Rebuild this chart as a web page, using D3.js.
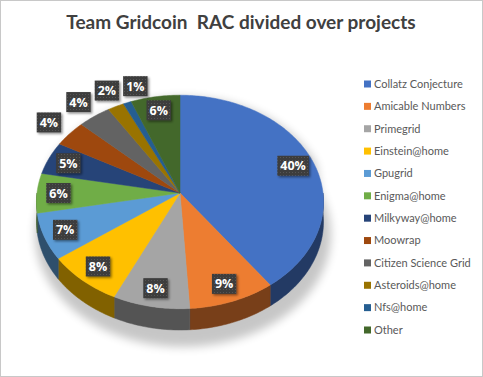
<!DOCTYPE html>
<html>
<head>
<meta charset="utf-8">
<script src="https://cdn.jsdelivr.net/npm/d3@7/dist/d3.min.js"></script>
<style>
  html, body { margin: 0; padding: 0; background: #fff; }
  svg { display: block; }
</style>
</head>
<body>
<div id="chart"></div>
<script>
// Team Gridcoin RAC share per project (percent)
const categories = [
  'Collatz Conjecture', 'Amicable Numbers', 'Primegrid', 'Einstein@home',
  'Gpugrid', 'Enigma@home', 'Milkyway@home', 'Moowrap',
  'Citizen Science Grid', 'Asteroids@home', 'Nfs@home', 'Other'
];
const shares = [40, 9, 8, 8, 7, 6, 5, 4, 4, 2, 1, 6];
const colors = [
  '#4472C4', '#ED7D31', '#A5A5A5', '#FFC000', '#5B9BD5', '#70AD47',
  '#264478', '#9E480E', '#636363', '#997300', '#255E91', '#43682B'
];
const title = 'Team Gridcoin  RAC divided over projects';

const width = 483, height = 377;

// 3D pie projection parameters
const cx = 180, cy = 193;     // projected centre of the pie top
const A = 143, B = 106;       // horizontal / vertical radius
const K = 0.084;              // perspective strength
const H = 19.5;               // wall thickness
const insideR = 0.85, outsideR = 1.2;

function project(theta, f = 1, drop = 0) {
  const s = Math.sin(theta), c = Math.cos(theta);
  const d = 1 + K * f * c;
  return [cx + f * A * s / d, cy + (-f * B * c + drop) / d];
}

function arcPoints(a0, a1, f = 1, drop = 0) {
  const n = Math.max(2, Math.ceil((a1 - a0) / (Math.PI / 180)));
  return d3.range(n + 1).map(i => project(a0 + (a1 - a0) * i / n, f, drop));
}

const line = d3.line();

const svg = d3.select('#chart').append('svg')
  .attr('width', width)
  .attr('height', height);

const defs = svg.append('defs');
defs.append('filter').attr('id', 'pieShadow')
  .attr('x', '-20%').attr('y', '-20%').attr('width', '140%').attr('height', '140%')
  .append('feGaussianBlur').attr('stdDeviation', 5);

const ls = defs.append('filter').attr('id', 'lblShadow')
  .attr('x', '-30%').attr('y', '-30%').attr('width', '160%').attr('height', '160%');
ls.append('feDropShadow').attr('dx', 1.5).attr('dy', 1.5)
  .attr('stdDeviation', 1.2).attr('flood-color', '#000').attr('flood-opacity', 0.45);

const pat = defs.append('pattern').attr('id', 'dots')
  .attr('width', 3).attr('height', 3).attr('patternUnits', 'userSpaceOnUse');
pat.append('rect').attr('width', 3).attr('height', 3).attr('fill', '#3c3c3c');
pat.append('rect').attr('x', 1).attr('y', 1).attr('width', 1).attr('height', 1).attr('fill', '#555');

// background + frame
svg.append('rect')
  .attr('x', 0.5).attr('y', 0.5)
  .attr('width', width - 1).attr('height', height - 1)
  .attr('fill', '#fff').attr('stroke', '#c8c8c8');

// title
svg.append('text')
  .attr('x', 241).attr('y', 29)
  .attr('text-anchor', 'middle')
  .attr('font-family', 'Lato, "Open Sans", sans-serif')
  .attr('font-weight', 'bold')
  .attr('font-size', 19)
  .attr('fill', '#404040')
  .style('white-space', 'pre')
  .text(title);

const data = categories.map((c, i) => ({ name: c, value: shares[i], color: colors[i] }));
const arcs = d3.pie().value(d => d.value).sort(null)(data);

// soft shadow below the pie
const shadowPts = arcPoints(Math.PI / 2 - 0.3, Math.PI * 1.5 + 0.3, 1.03, H + 10)
  .concat(arcPoints(Math.PI * 1.5 + 0.3, Math.PI * 2.5 - 0.3, 1.0, 0));
svg.append('path')
  .attr('d', line(shadowPts) + 'Z')
  .attr('transform', 'translate(3,2)')
  .attr('fill', '#000')
  .attr('opacity', 0.22)
  .attr('filter', 'url(#pieShadow)');

// outer walls (front half only)
const walls = svg.append('g');
arcs.forEach(a => {
  const s = Math.max(a.startAngle, Math.PI / 2);
  const e = Math.min(a.endAngle, Math.PI * 1.5);
  if (e <= s) return;
  const top = arcPoints(s, e);
  const bottom = arcPoints(s, e, 1, H).reverse();
  walls.append('path')
    .attr('d', line(top.concat(bottom)) + 'Z')
    .attr('fill', d3.color(a.data.color).darker(1.9))
    .attr('stroke', d3.color(a.data.color).darker(1.9))
    .attr('stroke-width', 0.5);
});

// top faces
svg.append('g').selectAll('path')
  .data(arcs)
  .enter()
  .append('path')
  .attr('d', a => line([[cx, cy]].concat(arcPoints(a.startAngle, a.endAngle))) + 'Z')
  .attr('fill', a => a.data.color)
  .attr('stroke', a => a.data.color)
  .attr('stroke-width', 0.5);

// data labels
const labelG = svg.append('g')
  .attr('font-family', '"Open Sans", sans-serif')
  .attr('font-weight', 'bold')
  .attr('font-size', 12.5)
  .attr('fill', '#fff');

let prevBox = null;
arcs.forEach(a => {
  const mid = (a.startAngle + a.endAngle) / 2;
  const outside = a.data.value < 5;
  let [x, y] = project(mid, outside ? outsideR : insideR);
  const g = labelG.append('g');
  const t = g.append('text').attr('text-anchor', 'middle').attr('dy', '0.36em').text(a.data.value + '%');
  const w = t.node().getComputedTextLength() + 6;
  const h = 20;
  if (outside && prevBox && x - w / 2 < prevBox.x1 + 4 && Math.abs(y - prevBox.y) < h) {
    x = prevBox.x1 + 4 + w / 2;
  }
  prevBox = outside ? { x1: x + w / 2, y: y } : null;
  t.attr('x', x).attr('y', y);
  g.insert('rect', 'text')
    .attr('x', x - w / 2).attr('y', y - h / 2)
    .attr('width', w).attr('height', h)
    .attr('fill', 'url(#dots)')
    .attr('filter', 'url(#lblShadow)');
});

// legend
const legend = svg.append('g')
  .attr('font-family', 'Lato, "Open Sans", sans-serif')
  .attr('font-size', 11)
  .attr('fill', '#595959');

const ly = d3.scalePoint().domain(categories).range([84, 330]);

const item = legend.selectAll('g')
  .data(data)
  .enter()
  .append('g')
  .attr('transform', d => `translate(364,${ly(d.name)})`);

item.append('rect')
  .attr('x', 0).attr('y', -3.5)
  .attr('width', 7).attr('height', 7)
  .attr('fill', d => d.color);

item.append('text')
  .attr('x', 10).attr('dy', '0.35em')
  .text(d => d.name);
</script>
</body>
</html>
